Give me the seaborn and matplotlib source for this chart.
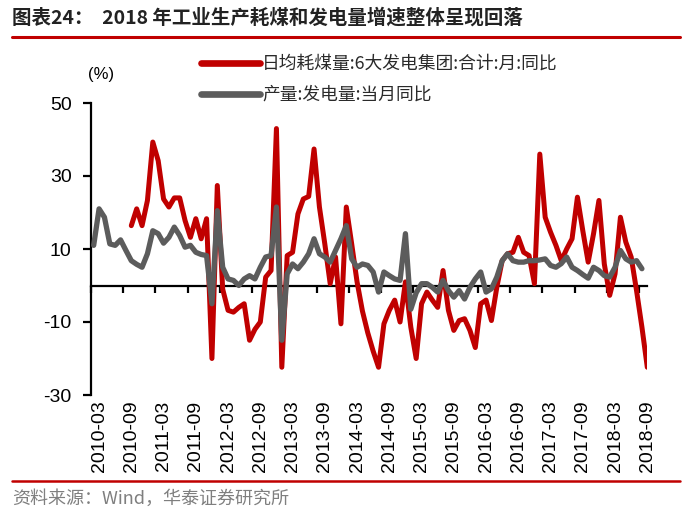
import numpy as np
import pandas as pd
import matplotlib
matplotlib.use("Agg")
import matplotlib.pyplot as plt
from matplotlib.lines import Line2D
import seaborn as sns

# ---------------- data ----------------
tick_labels = ["2010-03", "2010-09", "2011-03", "2011-09", "2012-03", "2012-09",
               "2013-03", "2013-09", "2014-03", "2014-09", "2015-03", "2015-09",
               "2016-03", "2016-09", "2017-03", "2017-09", "2018-03", "2018-09"]

series_coal_name = "日均耗煤量:6大发电集团:合计:月:同比"
series_power_name = "产量:发电量:当月同比"

# monthly values, 2010-03 ... 2018-10
coal = [np.nan, np.nan, np.nan, np.nan, np.nan, np.nan, np.nan,
        16.4, 21, 16.4, 23.3, 39.3, 34.2, 23.7, 21.5, 24, 24, 17.8, 13.2, 18.3,
        12.8, 18.3, -20, 27.4, -1, -6.8, -7.3, -6, -5, -15, -12, -10, 2.3, 4.1,
        43, -22.4, 8.2, 9.1, 19.6, 23.7, 24.4, 37.4, 21.5, 11.4, 0.5, 7.8, -10.5,
        21.5, 11.4, 1, -7, -13, -18, -22.4, -10.5, -6.8, -4, -10, 1, -11.4, -20,
        -5, -1.8, -4, -6, 4.1, -6.8, -12.3, -9.6, -9.1, -12.3, -17, -5, -4, -9.6,
        -0.5, 6.8, 8.7, 9.1, 13.2, 9.1, 8.2, 0.5, 36, 18.7, 14.6, 11, 6.8, 10,
        12.8, 24.2, 15, 6.4, 14.2, 23.3, 5.9, -2.7, 3.2, 18.7, 11.9, 7.8, -1.4,
        -11.4, -22.4]

power = [11, 21, 18.7, 11.4, 11, 12.5, 9.6, 6.8, 5.8, 5, 8.7, 15, 14.2, 11.6,
         13.2, 16, 13.7, 10.5, 11, 9.1, 8.5, 8.2, -5, 20.5, 5, 1.8, 1.4, 0, 1.8,
         2.7, 1.8, 5, 7.8, 8.2, 21.5, -15, 3.2, 5.9, 4.6, 6.4, 8.7, 12.8, 8.7,
         7.8, 6.4, 9.6, 12.8, 16.4, 7.3, 5, 5.9, 5.5, 3.7, -1.8, 3.7, 2.7, 1.8,
         1.4, 14.2, -6.5, -2, 0.5, 0.5, -0.5, -1.8, 1.4, -1.4, -3.2, -1.4, -3.7,
         -0.5, 1.8, 3.7, -1.8, -0.9, 2.3, 6.8, 8.7, 6.8, 6.4, 6.4, 6.8, 6.8, 7,
         7.3, 5.5, 5, 6, 7.8, 5, 4.1, 3, 2, 5, 4.1, 2.7, 2.3, 5, 9.6, 7.3, 6.4,
         6.8, 4.6, np.nan]

# ---------------- style ----------------
sns.set_theme(style="white")
plt.rcParams["font.family"] = ["Liberation Sans", "Noto Sans CJK SC", "DejaVu Sans"]
plt.rcParams["axes.unicode_minus"] = False
CJK = ["Noto Sans CJK SC", "DejaVu Sans"]
RED = "#C00000"
GRAY = "#5c5c5c"

n = len(coal)
df = pd.DataFrame({"pos": np.arange(n) + 0.5, "coal": coal, "power": power})

W, H = 688, 515
fig = plt.figure(figsize=(W / 100, H / 100), dpi=100)
left, right, top, bottom = 91, 647.3, 103, 395
ax = fig.add_axes([left / W, 1 - bottom / H, (right - left) / W, (bottom - top) / H])

sns.lineplot(data=df, x="pos", y="coal", ax=ax, color=RED, linewidth=3.6,
             label=series_coal_name, solid_capstyle="round", solid_joinstyle="round")
sns.lineplot(data=df, x="pos", y="power", ax=ax, color=GRAY, linewidth=3.8,
             label=series_power_name, solid_capstyle="round", solid_joinstyle="round")

ax.set_xlim(0, 103.5)
ax.set_ylim(-30, 50)
ax.set_yticks([-30, -10, 10, 30, 50])
ax.set_xlabel("")
ax.set_ylabel("")

for s in ["top", "right"]:
    ax.spines[s].set_visible(False)
ax.spines["bottom"].set_position(("data", 0))
for s in ["left", "bottom"]:
    ax.spines[s].set_color("black")
    ax.spines[s].set_linewidth(1.6)
    ax.spines[s].set_zorder(1)

ax.set_xticks(np.arange(0, 103, 6))
ax.tick_params(axis="x", direction="out", length=5, width=1.6, color="black",
               labelbottom=False, bottom=True)
ax.tick_params(axis="y", direction="out", length=6, width=1.6, color="black",
               labelsize=14, pad=8, labelcolor="black", left=True)

sec = ax.secondary_xaxis("bottom")
sec.set_xticks(np.arange(0, 103, 6) + 1.5, labels=tick_labels)
sec.tick_params(length=0, pad=4, labelsize=14, labelrotation=90, labelcolor="black")
sec.spines["bottom"].set_visible(False)

# legend
handles, labels = ax.get_legend_handles_labels()
ax.get_legend().remove()
leg = fig.legend(handles, labels, loc="upper left",
                 bbox_to_anchor=(201 / W, 1 - 55 / H), frameon=False,
                 prop={"family": CJK, "size": 12.8}, handlelength=3.3,
                 handletextpad=0.15, labelspacing=0.72, borderpad=0, borderaxespad=0)
for l in leg.get_lines():
    l.set_linewidth(4.8)
    l.set_solid_capstyle("round")
for t in leg.get_texts():
    t.set_color("#2a2a2a")

fig.text(101 / W, 1 - 75 / H, "(%)", ha="center", va="center", fontsize=12, color="black")

# title, rules and source
fig.text(12 / W, 1 - 18 / H, "图表24：  2018 年工业生产耗煤和发电量增速整体呈现回落",
         fontsize=14, fontweight="bold", family=CJK, va="center", color="#222222")
fig.add_artist(Line2D([12 / W, 680 / W], [1 - 37 / H] * 2, color=RED, lw=2.2,
                      transform=fig.transFigure))
fig.add_artist(Line2D([12 / W, 680 / W], [1 - 481 / H] * 2, color=RED, lw=1.8,
                      transform=fig.transFigure))
fig.text(12 / W, 1 - 499 / H, "资料来源：Wind，华泰证券研究所", fontsize=13,
         family=CJK, va="center", color="#7f7f7f")

fig.savefig("out.png", dpi=100)
